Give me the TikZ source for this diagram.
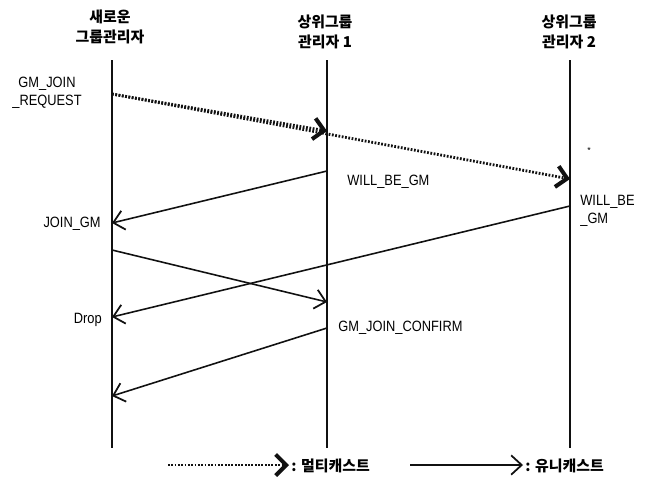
\documentclass[tikz,border=0pt]{standalone}
\usepackage{fontspec}
\setmainfont{Liberation Sans}
\newfontfamily\lblfont{Liberation Sans}[FakeStretch=0.86]
\newfontfamily\krfont{Noto Sans CJK KR}
\usetikzlibrary{arrows.meta}
\definecolor{SeqInk}{HTML}{111111}

\begin{document}
\begin{tikzpicture}[x=0.02cm,y=-0.02cm,
  lifeline/.style={SeqInk,line width=0.8pt},
  unicast/.style={SeqInk,line width=0.9pt,-{Straight Barb[length=6pt,width=11pt,line width=1pt]}},
  multicast/.style={SeqInk,line width=1.6pt,dash pattern=on 1pt off 0.9pt,-{Straight Barb[length=6pt,width=12pt,line width=2.3pt]}},
  head/.style={font=\krfont\bfseries\fontsize{8.5}{11.5}\selectfont,align=center,inner sep=0pt},
  msg/.style={font=\lblfont\fontsize{8.5}{10}\selectfont,inner sep=0pt,align=center}]
\path[use as bounding box] (0,0) rectangle (651,497);
\node[head] (grpnew) at (110,27) {새로운\\그룹관리자};
\node[head] (grpup1) at (325,32) {상위그룹\\관리자 1};
\node[head] (grpup2) at (569,32) {상위그룹\\관리자 2};
\coordinate (l1t) at (112,60);
\coordinate (l1b) at (112,448);
\coordinate (l2t) at (327,60);
\coordinate (l2b) at (327,448);
\coordinate (l3t) at (570,60);
\coordinate (l3b) at (570,448);
\draw[lifeline] (l1t) -- (l1b);
\draw[lifeline] (l2t) -- (l2b);
\draw[lifeline] (l3t) -- (l3b);
\coordinate (req) at (112,94);
\coordinate (req1) at (327,131);
\coordinate (req2) at (570,179);
\draw[multicast] (req) -- (req1);
\draw[multicast] (req) -- (req2);
\coordinate (wbs1) at (327,171);
\coordinate (wbe1) at (112,223);
\draw[unicast] (wbs1) -- (wbe1);
\coordinate (wbs2) at (570,206);
\coordinate (wbe2) at (112,317);
\draw[unicast] (wbs2) -- (wbe2);
\coordinate (jgs) at (112,250);
\coordinate (jge) at (327,302);
\draw[unicast] (jgs) -- (jge);
\coordinate (cfs) at (327,328);
\coordinate (cfe) at (112,396);
\draw[unicast] (cfs) -- (cfe);
\node[msg] (lblreq) at (47,93) {GM\_JOIN\\\_REQUEST};
\node[msg,anchor=west] (lblwb1) at (347,182) {WILL\_BE\_GM};
\node[msg,anchor=west,align=left] (lblwb2) at (580,211) {WILL\_BE\\\_GM};
\node[msg,anchor=east] (lbljg) at (101,224) {JOIN\_GM};
\node[msg,anchor=east] (lbldrop) at (102,320) {Drop};
\node[msg,anchor=west] (lblcf) at (338,328) {GM\_JOIN\_CONFIRM};
\node[msg,font=\fontsize{5}{5}\selectfont] (spot) at (589,150) {*};
\coordinate (mcs) at (168,465);
\coordinate (mce) at (289,465);
\draw[multicast] (mcs) -- (mce);
\node[head,anchor=west] (lblmc) at (291,466) {: 멀티캐스트};
\coordinate (ucs) at (410,465);
\coordinate (uce) at (523,465);
\draw[unicast] (ucs) -- (uce);
\node[head,anchor=west] (lbluc) at (525,466) {: 유니캐스트};
\end{tikzpicture}
\end{document}
